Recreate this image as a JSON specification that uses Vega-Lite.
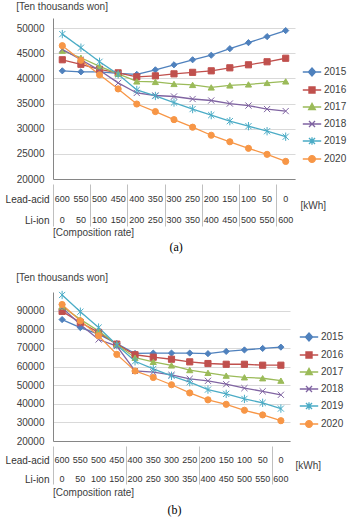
{
  "$schema": "https://vega.github.io/schema/vega-lite/v6.json",
  "padding": {"left": 5, "top": 2, "right": 2, "bottom": 2},
  "background": "white",
  "config": {
    "view": {"stroke": null},
    "font": "Liberation Sans",
    "axis": {"labelFont": "Liberation Sans", "labelFontSize": 10, "labelColor": "#404040", "titleFont": "Liberation Sans", "titleFontWeight": "normal", "titleColor": "#404040", "titleFontSize": 10, "labelOverlap": false},
    "legend": {"labelFont": "Liberation Sans", "labelFontSize": 10, "labelColor": "#404040"}
  },
  "datasets": {
    "a": [
      {"year":"2015","idx":0,"cost":41500},{"year":"2015","idx":1,"cost":41300},{"year":"2015","idx":2,"cost":41300},{"year":"2015","idx":3,"cost":41000},{"year":"2015","idx":4,"cost":40800},{"year":"2015","idx":5,"cost":41700},{"year":"2015","idx":6,"cost":42700},{"year":"2015","idx":7,"cost":43700},{"year":"2015","idx":8,"cost":44600},{"year":"2015","idx":9,"cost":45900},{"year":"2015","idx":10,"cost":47100},{"year":"2015","idx":11,"cost":48300},{"year":"2015","idx":12,"cost":49500},
      {"year":"2016","idx":0,"cost":43700},{"year":"2016","idx":1,"cost":42800},{"year":"2016","idx":2,"cost":41800},{"year":"2016","idx":3,"cost":41100},{"year":"2016","idx":4,"cost":40300},{"year":"2016","idx":5,"cost":40500},{"year":"2016","idx":6,"cost":40900},{"year":"2016","idx":7,"cost":41200},{"year":"2016","idx":8,"cost":41500},{"year":"2016","idx":9,"cost":42100},{"year":"2016","idx":10,"cost":42700},{"year":"2016","idx":11,"cost":43300},{"year":"2016","idx":12,"cost":44000},
      {"year":"2017","idx":0,"cost":45500},{"year":"2017","idx":1,"cost":44100},{"year":"2017","idx":2,"cost":42400},{"year":"2017","idx":3,"cost":40900},{"year":"2017","idx":4,"cost":39400},{"year":"2017","idx":5,"cost":39300},{"year":"2017","idx":6,"cost":38900},{"year":"2017","idx":7,"cost":38700},{"year":"2017","idx":8,"cost":38200},{"year":"2017","idx":9,"cost":38600},{"year":"2017","idx":10,"cost":38800},{"year":"2017","idx":11,"cost":39100},{"year":"2017","idx":12,"cost":39400},
      {"year":"2018","idx":0,"cost":45800},{"year":"2018","idx":1,"cost":43700},{"year":"2018","idx":2,"cost":41600},{"year":"2018","idx":3,"cost":39100},{"year":"2018","idx":4,"cost":37100},{"year":"2018","idx":5,"cost":36600},{"year":"2018","idx":6,"cost":36400},{"year":"2018","idx":7,"cost":35900},{"year":"2018","idx":8,"cost":35600},{"year":"2018","idx":9,"cost":35000},{"year":"2018","idx":10,"cost":34600},{"year":"2018","idx":11,"cost":33900},{"year":"2018","idx":12,"cost":33500},
      {"year":"2019","idx":0,"cost":48800},{"year":"2019","idx":1,"cost":46100},{"year":"2019","idx":2,"cost":43300},{"year":"2019","idx":3,"cost":40800},{"year":"2019","idx":4,"cost":37700},{"year":"2019","idx":5,"cost":36500},{"year":"2019","idx":6,"cost":35200},{"year":"2019","idx":7,"cost":33900},{"year":"2019","idx":8,"cost":32700},{"year":"2019","idx":9,"cost":31500},{"year":"2019","idx":10,"cost":30500},{"year":"2019","idx":11,"cost":29500},{"year":"2019","idx":12,"cost":28400},
      {"year":"2020","idx":0,"cost":46500},{"year":"2020","idx":1,"cost":43600},{"year":"2020","idx":2,"cost":40700},{"year":"2020","idx":3,"cost":37900},{"year":"2020","idx":4,"cost":34900},{"year":"2020","idx":5,"cost":33400},{"year":"2020","idx":6,"cost":31800},{"year":"2020","idx":7,"cost":30300},{"year":"2020","idx":8,"cost":28700},{"year":"2020","idx":9,"cost":27400},{"year":"2020","idx":10,"cost":26100},{"year":"2020","idx":11,"cost":24900},{"year":"2020","idx":12,"cost":23500}
    ],
    "b": [
      {"year":"2015","idx":0,"cost":85200},{"year":"2015","idx":1,"cost":80900},{"year":"2015","idx":2,"cost":77400},{"year":"2015","idx":3,"cost":72300},{"year":"2015","idx":4,"cost":67000},{"year":"2015","idx":5,"cost":67200},{"year":"2015","idx":6,"cost":67200},{"year":"2015","idx":7,"cost":67200},{"year":"2015","idx":8,"cost":66900},{"year":"2015","idx":9,"cost":68100},{"year":"2015","idx":10,"cost":68900},{"year":"2015","idx":11,"cost":69700},{"year":"2015","idx":12,"cost":70400},
      {"year":"2016","idx":0,"cost":89600},{"year":"2016","idx":1,"cost":83600},{"year":"2016","idx":2,"cost":78300},{"year":"2016","idx":3,"cost":72000},{"year":"2016","idx":4,"cost":66300},{"year":"2016","idx":5,"cost":65000},{"year":"2016","idx":6,"cost":63900},{"year":"2016","idx":7,"cost":62500},{"year":"2016","idx":8,"cost":61600},{"year":"2016","idx":9,"cost":61200},{"year":"2016","idx":10,"cost":61200},{"year":"2016","idx":11,"cost":60700},{"year":"2016","idx":12,"cost":60700},
      {"year":"2017","idx":0,"cost":92200},{"year":"2017","idx":1,"cost":85300},{"year":"2017","idx":2,"cost":79100},{"year":"2017","idx":3,"cost":71800},{"year":"2017","idx":4,"cost":64700},{"year":"2017","idx":5,"cost":62500},{"year":"2017","idx":6,"cost":60600},{"year":"2017","idx":7,"cost":58100},{"year":"2017","idx":8,"cost":56600},{"year":"2017","idx":9,"cost":55100},{"year":"2017","idx":10,"cost":54200},{"year":"2017","idx":11,"cost":53700},{"year":"2017","idx":12,"cost":52400},
      {"year":"2018","idx":0,"cost":91500},{"year":"2018","idx":1,"cost":82600},{"year":"2018","idx":2,"cost":74500},{"year":"2018","idx":3,"cost":71000},{"year":"2018","idx":4,"cost":57600},{"year":"2018","idx":5,"cost":57000},{"year":"2018","idx":6,"cost":55500},{"year":"2018","idx":7,"cost":53400},{"year":"2018","idx":8,"cost":52300},{"year":"2018","idx":9,"cost":50500},{"year":"2018","idx":10,"cost":48400},{"year":"2018","idx":11,"cost":46700},{"year":"2018","idx":12,"cost":44800},
      {"year":"2019","idx":0,"cost":98400},{"year":"2019","idx":1,"cost":89400},{"year":"2019","idx":2,"cost":80900},{"year":"2019","idx":3,"cost":71500},{"year":"2019","idx":4,"cost":62800},{"year":"2019","idx":5,"cost":58700},{"year":"2019","idx":6,"cost":55000},{"year":"2019","idx":7,"cost":51600},{"year":"2019","idx":8,"cost":47600},{"year":"2019","idx":9,"cost":45300},{"year":"2019","idx":10,"cost":42600},{"year":"2019","idx":11,"cost":40500},{"year":"2019","idx":12,"cost":37400},
      {"year":"2020","idx":0,"cost":93300},{"year":"2020","idx":1,"cost":84500},{"year":"2020","idx":2,"cost":76500},{"year":"2020","idx":3,"cost":66500},{"year":"2020","idx":4,"cost":57600},{"year":"2020","idx":5,"cost":54100},{"year":"2020","idx":6,"cost":50200},{"year":"2020","idx":7,"cost":45800},{"year":"2020","idx":8,"cost":42100},{"year":"2020","idx":9,"cost":39700},{"year":"2020","idx":10,"cost":36500},{"year":"2020","idx":11,"cost":34000},{"year":"2020","idx":12,"cost":30900}
    ],
    "tbl": [
      {"idx":0,"row":"Lead-acid","kwh":600},{"idx":1,"row":"Lead-acid","kwh":550},{"idx":2,"row":"Lead-acid","kwh":500},{"idx":3,"row":"Lead-acid","kwh":450},{"idx":4,"row":"Lead-acid","kwh":400},{"idx":5,"row":"Lead-acid","kwh":350},{"idx":6,"row":"Lead-acid","kwh":300},{"idx":7,"row":"Lead-acid","kwh":250},{"idx":8,"row":"Lead-acid","kwh":200},{"idx":9,"row":"Lead-acid","kwh":150},{"idx":10,"row":"Lead-acid","kwh":100},{"idx":11,"row":"Lead-acid","kwh":50},{"idx":12,"row":"Lead-acid","kwh":0},
      {"idx":0,"row":"Li-ion","kwh":0},{"idx":1,"row":"Li-ion","kwh":50},{"idx":2,"row":"Li-ion","kwh":100},{"idx":3,"row":"Li-ion","kwh":150},{"idx":4,"row":"Li-ion","kwh":200},{"idx":5,"row":"Li-ion","kwh":250},{"idx":6,"row":"Li-ion","kwh":300},{"idx":7,"row":"Li-ion","kwh":350},{"idx":8,"row":"Li-ion","kwh":400},{"idx":9,"row":"Li-ion","kwh":450},{"idx":10,"row":"Li-ion","kwh":500},{"idx":11,"row":"Li-ion","kwh":550},{"idx":12,"row":"Li-ion","kwh":600}
    ]
  },
  "spacing": 19,
  "vconcat": [
    {
      "title": {"text": "(a)", "orient": "bottom", "anchor": "middle", "font": "Liberation Serif", "fontSize": 12, "fontWeight": "normal", "color": "#000000", "offset": 4},
      "spacing": 0,
      "vconcat": [
        {
          "width": 242, "height": 161,
          "title": {"text": "[Ten thousands  won]", "anchor": "start", "fontSize": 10, "fontWeight": "normal", "color": "#404040", "offset": 6},
          "data": {"name": "a"},
          "encoding": {
            "x": {"field": "idx", "type": "quantitative", "scale": {"domain": [-0.5, 12.5], "nice": false, "zero": false}, "axis": {"labels": false, "ticks": false, "grid": false, "domainColor": "#868686", "title": null}},
            "y": {"field": "cost", "type": "quantitative", "scale": {"domain": [20000, 52000], "nice": false, "zero": false}, "axis": {"values": [20000, 25000, 30000, 35000, 40000, 45000, 50000], "labelOverlap": false, "title": null, "ticks": false, "labelPadding": 9, "domainColor": "#868686", "gridColor": "#d9d9d9", "format": "d"}}
          },
          "layer": [
            {
              "mark": {"type": "line", "strokeWidth": 1.3},
              "encoding": {
                "color": {"field": "year", "type": "nominal", "scale": {"domain": ["2015","2016","2017","2018","2019","2020"], "range": ["#4F81BD","#C0504D","#9BBB59","#8064A2","#4BACC6","#F79646"]},
                  "legend": {"title": null, "orient": "none", "legendX": 250, "legendY": 45, "symbolSize": 256, "rowPadding": 2, "labelOffset": 3,
                    "encode": {"symbols": {"update": {
                      "shape": {"signal": "['M-1.15,0H1.15M0,-0.5L0.45,0L0,0.5L-0.45,0Z','M-1.15,0H1.15M-0.38,-0.38H0.38V0.38H-0.38Z','M-1.15,0H1.15M0,-0.45L0.42,0.33H-0.42Z','M-1.15,0H1.15M-0.38,-0.38L0.38,0.38M-0.38,0.38L0.38,-0.38','M-1.15,0H1.15M-0.38,-0.38L0.38,0.38M-0.38,0.38L0.38,-0.38M0,-0.48V0.48','M-1.15,0H1.15M0.42,0A0.42,0.42,0,1,1,-0.42,0A0.42,0.42,0,1,1,0.42,0Z'][indexof(['2015','2016','2017','2018','2019','2020'], datum.value)]"},
                      "fill": {"signal": "['#4F81BD','#C0504D','#9BBB59','#8064A2','#4BACC6','#F79646'][indexof(['2015','2016','2017','2018','2019','2020'], datum.value)]"},
                      "stroke": {"signal": "['#4F81BD','#C0504D','#9BBB59','#8064A2','#4BACC6','#F79646'][indexof(['2015','2016','2017','2018','2019','2020'], datum.value)]"},
                      "strokeWidth": {"value": 1.3},
                      "opacity": {"value": 1}
                    }}}
                  }
                }
              }
            },
            {
              "mark": {"type": "point", "filled": true, "size": 38, "opacity": 1, "strokeWidth": 1},
              "encoding": {
                "fill": {"field": "year", "type": "nominal", "scale": {"range": ["#4F81BD","#C0504D","#9BBB59","#8064A2","#4BACC6","#F79646"]}, "legend": null},
                "stroke": {"field": "year", "type": "nominal", "scale": {"range": ["#4F81BD","#C0504D","#9BBB59","#8064A2","#4BACC6","#F79646"]}, "legend": null},
                "shape": {"field": "year", "type": "nominal", "scale": {"range": ["diamond","square","triangle-up","M-1,-1L1,1M-1,1L1,-1","M-1,-1L1,1M-1,1L1,-1M0,-1.35V1.35","circle"]}, "legend": null}
              }
            }
          ]
        },
        {
          "width": 242, "height": 42,
          "data": {"name": "tbl"},
          "title": {"text": "[Composition  rate]", "orient": "bottom", "anchor": "start", "frame": "group", "fontSize": 10, "fontWeight": "normal", "color": "#404040", "offset": 2},
          "layer": [
            {
              "mark": {"type": "text", "fontSize": 9, "baseline": "top", "color": "#333333"},
              "encoding": {
                "x": {"field": "idx", "type": "quantitative", "scale": {"domain": [-0.5, 12.5], "nice": false, "zero": false}, "axis": {"orient": "top", "values": [-0.5,0.5,1.5,2.5,3.5,4.5,5.5,6.5,7.5,8.5,9.5,10.5,11.5,12.5], "labels": false, "ticks": false, "domain": false, "grid": true, "gridColor": "#bfbfbf", "title": null}},
                "y": {"field": "row", "type": "nominal", "scale": {"type": "point", "domain": ["Lead-acid", "Li-ion"], "padding": 0.5}, "axis": {"title": null, "ticks": false, "domain": false, "labelBaseline": "top", "labelPadding": 4, "labelColor": "#333333"}},
                "text": {"field": "kwh", "type": "quantitative", "format": "d"}
              }
            },
            {
              "mark": {"type": "text", "opacity": 0},
              "encoding": {
                "x": {"field": "idx", "type": "quantitative"},
                "y": {"field": "row", "type": "nominal", "axis": {"orient": "right", "title": "[kWh]", "titleAngle": 0, "titleAlign": "left", "titleBaseline": "middle", "titlePadding": 5, "labels": false, "ticks": false, "domain": false, "grid": false}},
                "text": {"field": "kwh", "type": "quantitative"}
              }
            }
          ],
          "resolve": {"axis": {"y": "independent"}}
        }
      ],
      "resolve": {"scale": {"x": "independent", "y": "independent"}}
    },
    {
      "title": {"text": "(b)", "orient": "bottom", "anchor": "middle", "font": "Liberation Serif", "fontSize": 12, "fontWeight": "normal", "color": "#000000", "offset": 7},
      "spacing": 0,
      "vconcat": [
        {
          "width": 237, "height": 149,
          "title": {"text": "[Ten thousands  won]", "anchor": "start", "fontSize": 10, "fontWeight": "normal", "color": "#404040", "offset": 6},
          "data": {"name": "b"},
          "encoding": {
            "x": {"field": "idx", "type": "quantitative", "scale": {"domain": [-0.5, 12.5], "nice": false, "zero": false}, "axis": {"labels": false, "ticks": false, "grid": false, "domainColor": "#868686", "title": null}},
            "y": {"field": "cost", "type": "quantitative", "scale": {"domain": [20000, 100000], "nice": false, "zero": false}, "axis": {"values": [20000, 30000, 40000, 50000, 60000, 70000, 80000, 90000], "labelOverlap": false, "title": null, "ticks": false, "labelPadding": 9, "domainColor": "#868686", "gridColor": "#d9d9d9", "format": "d"}}
          },
          "layer": [
            {
              "mark": {"type": "line", "strokeWidth": 1.3},
              "encoding": {
                "color": {"field": "year", "type": "nominal", "scale": {"domain": ["2015","2016","2017","2018","2019","2020"], "range": ["#4F81BD","#C0504D","#9BBB59","#8064A2","#4BACC6","#F79646"]},
                  "legend": {"title": null, "orient": "none", "legendX": 247, "legendY": 36, "symbolSize": 256, "rowPadding": 2, "labelOffset": 3,
                    "encode": {"symbols": {"update": {
                      "shape": {"signal": "['M-1.15,0H1.15M0,-0.5L0.45,0L0,0.5L-0.45,0Z','M-1.15,0H1.15M-0.38,-0.38H0.38V0.38H-0.38Z','M-1.15,0H1.15M0,-0.45L0.42,0.33H-0.42Z','M-1.15,0H1.15M-0.38,-0.38L0.38,0.38M-0.38,0.38L0.38,-0.38','M-1.15,0H1.15M-0.38,-0.38L0.38,0.38M-0.38,0.38L0.38,-0.38M0,-0.48V0.48','M-1.15,0H1.15M0.42,0A0.42,0.42,0,1,1,-0.42,0A0.42,0.42,0,1,1,0.42,0Z'][indexof(['2015','2016','2017','2018','2019','2020'], datum.value)]"},
                      "fill": {"signal": "['#4F81BD','#C0504D','#9BBB59','#8064A2','#4BACC6','#F79646'][indexof(['2015','2016','2017','2018','2019','2020'], datum.value)]"},
                      "stroke": {"signal": "['#4F81BD','#C0504D','#9BBB59','#8064A2','#4BACC6','#F79646'][indexof(['2015','2016','2017','2018','2019','2020'], datum.value)]"},
                      "strokeWidth": {"value": 1.3},
                      "opacity": {"value": 1}
                    }}}
                  }
                }
              }
            },
            {
              "mark": {"type": "point", "filled": true, "size": 38, "opacity": 1, "strokeWidth": 1},
              "encoding": {
                "fill": {"field": "year", "type": "nominal", "scale": {"range": ["#4F81BD","#C0504D","#9BBB59","#8064A2","#4BACC6","#F79646"]}, "legend": null},
                "stroke": {"field": "year", "type": "nominal", "scale": {"range": ["#4F81BD","#C0504D","#9BBB59","#8064A2","#4BACC6","#F79646"]}, "legend": null},
                "shape": {"field": "year", "type": "nominal", "scale": {"range": ["diamond","square","triangle-up","M-1,-1L1,1M-1,1L1,-1","M-1,-1L1,1M-1,1L1,-1M0,-1.35V1.35","circle"]}, "legend": null}
              }
            }
          ]
        },
        {
          "width": 237, "height": 38,
          "data": {"name": "tbl"},
          "title": {"text": "[Composition  rate]", "orient": "bottom", "anchor": "start", "frame": "group", "fontSize": 10, "fontWeight": "normal", "color": "#404040", "offset": 3},
          "layer": [
            {
              "mark": {"type": "text", "fontSize": 9, "baseline": "top", "color": "#333333"},
              "encoding": {
                "x": {"field": "idx", "type": "quantitative", "scale": {"domain": [-0.5, 12.5], "nice": false, "zero": false}, "axis": {"orient": "top", "values": [-0.5,0.5,1.5,2.5,3.5,4.5,5.5,6.5,7.5,8.5,9.5,10.5,11.5,12.5], "labels": false, "ticks": false, "domain": false, "grid": true, "gridColor": "#bfbfbf", "title": null}},
                "y": {"field": "row", "type": "nominal", "scale": {"type": "point", "domain": ["Lead-acid", "Li-ion"], "padding": 0.5}, "axis": {"title": null, "ticks": false, "domain": false, "labelBaseline": "top", "labelPadding": 4, "labelColor": "#333333"}},
                "text": {"field": "kwh", "type": "quantitative", "format": "d"}
              }
            },
            {
              "mark": {"type": "text", "opacity": 0},
              "encoding": {
                "x": {"field": "idx", "type": "quantitative"},
                "y": {"field": "row", "type": "nominal", "axis": {"orient": "right", "title": "[kWh]", "titleAngle": 0, "titleAlign": "left", "titleBaseline": "middle", "titlePadding": 5, "labels": false, "ticks": false, "domain": false, "grid": false}},
                "text": {"field": "kwh", "type": "quantitative"}
              }
            }
          ],
          "resolve": {"axis": {"y": "independent"}}
        }
      ],
      "resolve": {"scale": {"x": "independent", "y": "independent"}}
    }
  ],
  "resolve": {"scale": {"color": "independent", "fill": "independent", "stroke": "independent", "shape": "independent", "x": "independent", "y": "independent"}, "legend": {"color": "independent"}}
}
